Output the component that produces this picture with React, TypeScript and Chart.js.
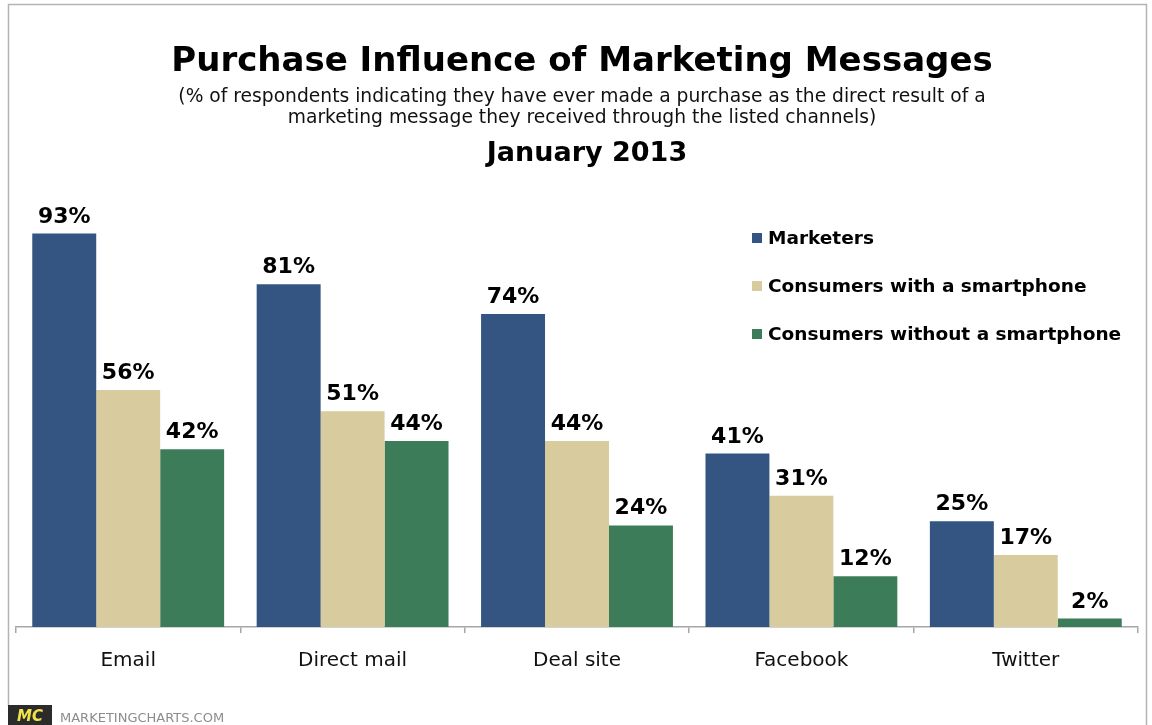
import React, { useEffect, useRef } from "react";
import { Chart, registerables } from "chart.js";

Chart.register(...registerables);

const categories = ["Email", "Direct mail", "Deal site", "Facebook", "Twitter"];
const seriesNames = ["Marketers", "Consumers with a smartphone", "Consumers without a smartphone"];
const marketers = [93, 81, 74, 41, 25];
const withSmartphone = [56, 51, 44, 31, 17];
const withoutSmartphone = [42, 44, 24, 12, 2];
const colors = ["#345481", "#d8cb9d", "#3c7c58"];

const titleText = "Purchase Influence of Marketing Messages";
const subtitleLines = [
  "(% of respondents indicating they have ever made a purchase as the direct result of a",
  "marketing message they received through the listed channels)",
];
const dateText = "January 2013";
const sourceText = "MARKETINGCHARTS.COM";

const WIDE = "Verdana, 'DejaVu Sans', sans-serif";

const decorPlugin = {
  id: "decor",
  beforeDraw(chart: any) {
    const ctx = chart.ctx;
    ctx.save();
    ctx.fillStyle = "#ffffff";
    ctx.fillRect(0, 0, chart.width, chart.height);
    // frame
    ctx.strokeStyle = "#b4b4b4";
    ctx.lineWidth = 1.5;
    ctx.beginPath();
    ctx.moveTo(8.5, 706);
    ctx.lineTo(8.5, 4.5);
    ctx.lineTo(1146.5, 4.5);
    ctx.lineTo(1146.5, 725);
    ctx.stroke();
    // titles
    ctx.fillStyle = "#000000";
    ctx.textAlign = "center";
    ctx.textBaseline = "alphabetic";
    ctx.font = `bold 34px ${WIDE}`;
    ctx.fillText(titleText, 582, 71);
    ctx.font = `18.7px ${WIDE}`;
    ctx.fillStyle = "#111111";
    ctx.fillText(subtitleLines[0], 582, 102);
    ctx.fillText(subtitleLines[1], 582, 123);
    ctx.fillStyle = "#000000";
    ctx.font = `bold 27px ${WIDE}`;
    ctx.fillText(dateText, 587, 161);
    // legend
    ctx.textAlign = "left";
    ctx.font = `bold 18.5px ${WIDE}`;
    const baselines = [244, 292, 340];
    seriesNames.forEach((name, i) => {
      ctx.fillStyle = colors[i];
      ctx.fillRect(752, baselines[i] - 11, 10, 10);
      ctx.fillStyle = "#000000";
      ctx.fillText(name, 768, baselines[i]);
    });
    // logo
    ctx.fillStyle = "#2b2b2b";
    ctx.fillRect(8, 705, 44, 20);
    ctx.fillStyle = "#f2e24a";
    ctx.font = `italic bold 15px ${WIDE}`;
    ctx.textAlign = "center";
    ctx.fillText("MC", 30, 721);
    ctx.fillStyle = "#8c8c8c";
    ctx.font = `13px ${WIDE}`;
    ctx.textAlign = "left";
    ctx.fillText(sourceText, 60, 722);
    ctx.restore();
  },
  afterDatasetsDraw(chart: any) {
    const ctx = chart.ctx;
    ctx.save();
    ctx.fillStyle = "#000000";
    ctx.font = `bold 22px ${WIDE}`;
    ctx.textAlign = "center";
    ctx.textBaseline = "alphabetic";
    chart.data.datasets.forEach((ds: any, di: number) => {
      const meta = chart.getDatasetMeta(di);
      meta.data.forEach((bar: any, i: number) => {
        ctx.fillText(`${ds.data[i]}%`, bar.x, bar.y - 11);
      });
    });
    ctx.restore();
  },
};

export default function App() {
  const canvasRef = useRef<HTMLCanvasElement | null>(null);
  useEffect(() => {
    if (!canvasRef.current) return;
    const chart = new Chart(canvasRef.current, {
      type: "bar",
      data: {
        labels: categories,
        datasets: [marketers, withSmartphone, withoutSmartphone].map((d, i) => ({
          label: seriesNames[i],
          data: d,
          backgroundColor: colors[i],
          borderWidth: 0,
          categoryPercentage: 0.855,
          barPercentage: 1.0,
        })),
      },
      options: {
        animation: false,
        responsive: false,
        maintainAspectRatio: false,
        devicePixelRatio: 1,
        layout: { padding: { left: 16, right: 14, top: 204, bottom: 0 } },
        plugins: { legend: { display: false }, tooltip: { enabled: false }, title: { display: false } },
        scales: {
          y: { display: false, min: 0, max: 100 },
          x: {
            afterFit: (scale: any) => {
              scale.height = 98;
            },
            border: { display: true, color: "#a6a6a6", width: 1.5 },
            grid: {
              display: true,
              drawOnChartArea: false,
              drawTicks: true,
              tickLength: 6,
              color: "#a6a6a6",
              lineWidth: 1.5,
              offset: true,
            },
            ticks: {
              color: "#111111",
              font: { family: WIDE, size: 20 },
              padding: 16,
            },
          },
        },
      },
      plugins: [decorPlugin],
    });
    return () => chart.destroy();
  }, []);
  return (
    <div style={{ position: "fixed", left: 0, top: 0, width: 1152, height: 725, background: "#fff" }}>
      <canvas ref={canvasRef} width={1152} height={725} style={{ width: 1152, height: 725, display: "block" }} />
    </div>
  );
}
